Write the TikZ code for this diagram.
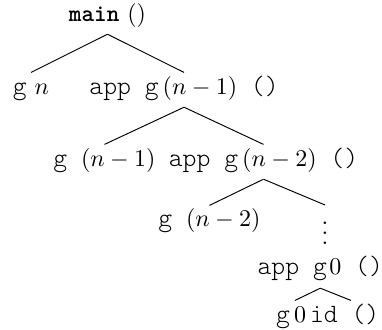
\documentclass[tikz,border=0pt]{standalone}
\usepackage{fontspec}
\usepackage{tikz}
\newcommand\cour{\fontsize{11}{13}\fontseries{l}\ttfamily}
\tikzset{term/.style={inner sep=2.8pt, text height=6pt, text depth=2.5pt, anchor=base}}

\begin{document}
\begin{tikzpicture}
\useasboundingbox (0,0) rectangle (5.594,-4.818);
\node[term] (main) at (1.574,-0.308) {\textbf{\texttt{main}} $()$};
\node[term] (gn) at (0.454,-1.377) {{\cour g}~$n$};
\node[term] (app1) at (2.695,-1.377) {{\cour app g}\,$(n-1)${\cour~()}};
\node[term] (g1) at (1.530,-2.431) {{\cour g~}$(n-1)$};
\node[term] (app2) at (3.859,-2.431) {{\cour app g}\,$(n-2)${\cour~()}};
\node[term] (g2) at (3.068,-3.324) {{\cour g~}$(n-2)$};
\node[inner sep=1pt, anchor=north] (dots) at (4.760,-3.002) {$\vdots$};
\node[term] (app0) at (4.690,-4.027) {{\cour app g}\kern1pt$0${\cour~()}};
\node[term] (last) at (4.800,-4.716) {{\cour g}\,$0$\,{\cour id~}{\cour()}};
\draw (main.south) -- (gn.north);
\draw (main.south) -- (app1.north);
\draw (app1.south) -- (g1.north);
\draw (app1.south) -- (app2.north);
\draw (app2.south) -- (g2.north);
\draw (app2.south) -- (dots.north);
\draw (app0.south) -- ([xshift=-4.8mm]last.north);
\draw (app0.south) -- ([xshift=3.4mm]last.north);
\end{tikzpicture}
\end{document}
